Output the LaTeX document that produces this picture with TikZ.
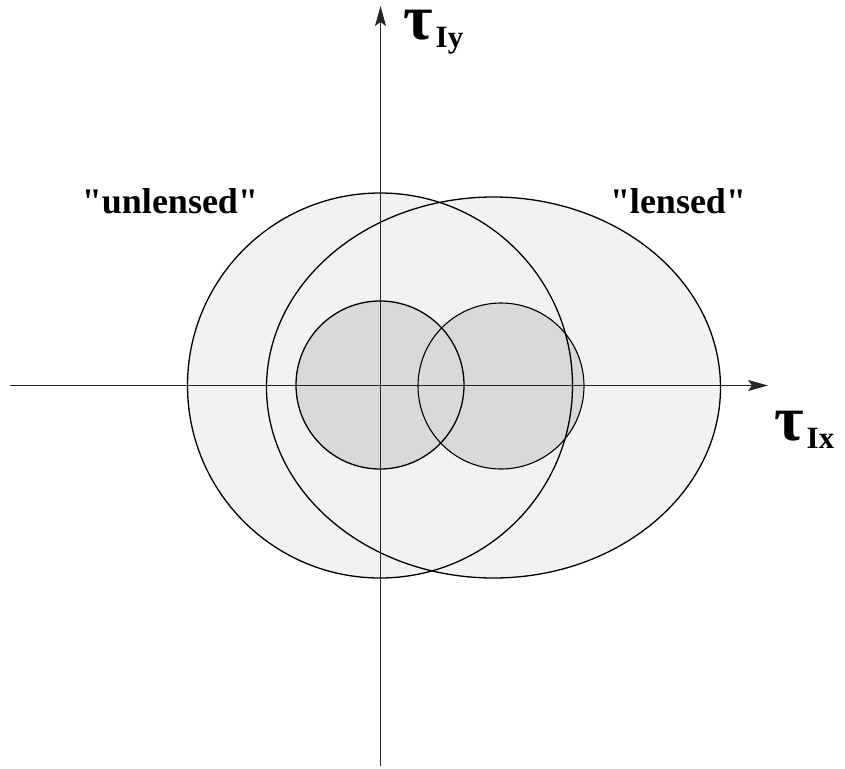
\documentclass[tikz,border=0pt]{standalone}
\usepackage{fontspec}
\setmainfont{Liberation Serif}[Ligatures=TeXOff]
\usetikzlibrary{arrows.meta}
\newcommand{\mytau}[1]{{\fontsize{64}{64}\selectfont\bfseries τ}\hspace{3pt}\raisebox{-8pt}{\fontsize{31}{31}\selectfont\bfseries #1}}
\begin{document}
\begin{tikzpicture}[x=1pt,y=-1pt,
  bigfill/.style={fill=black!5},
  smallfill/.style={fill=black!15},
  outline/.style={draw=black,line width=1.3pt},
  axis/.style={draw=black!85,line width=1.2pt,-{Stealth[length=20pt,width=11pt,inset=4pt]}},
  lbl/.style={font=\fontsize{36}{36}\selectfont\bfseries,inner sep=0pt,anchor=base},
  taulbl/.style={inner sep=0pt,anchor=base west}]
\useasboundingbox (0,0) rectangle (845,768);
% fills
\fill[bigfill] (380,385.5) circle [radius=192.5pt];
\fill[bigfill] (493.5,387.5) ellipse [x radius=227pt, y radius=190.5pt];
\fill[smallfill] (380,385) circle [radius=84pt];
\fill[smallfill] (501,386) circle [radius=83pt];
% outlines
\draw[outline] (380,385.5) circle [radius=192.5pt];
\draw[outline] (493.5,387.5) ellipse [x radius=227pt, y radius=190.5pt];
\draw[outline] (380,385) circle [radius=84pt];
\draw[outline,line width=1.1pt] (501,386) circle [radius=83pt];
% axes
\coordinate (xs) at (10,385.5);
\coordinate (xe) at (768,385.5);
\coordinate (ys) at (380.5,766);
\coordinate (ye) at (380.5,6);
\draw[axis] (xs) -- (xe);
\draw[axis] (ys) -- (ye);
% labels
\node[lbl] (unl) at (170,213) {"unlensed"};
\node[lbl] (len) at (678,213) {"lensed"};
\node[taulbl] (ty) at (403,40) {\mytau{Iy}};
\node[taulbl] (tx) at (774,440) {\mytau{Ix}};
\end{tikzpicture}
\end{document}
